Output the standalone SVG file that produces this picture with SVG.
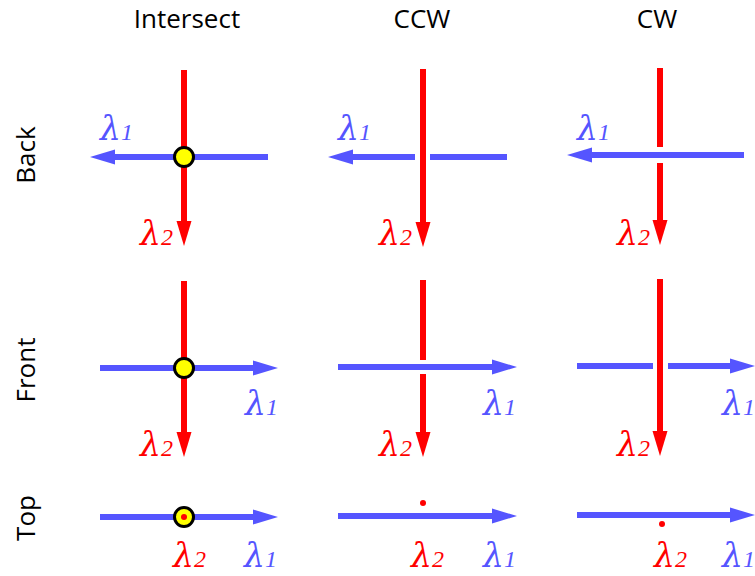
<svg xmlns="http://www.w3.org/2000/svg" width="755" height="576" viewBox="0 0 755 576">
<style>
.hdr{font-family:"Open Sans","Liberation Sans",sans-serif;font-size:26px;fill:#000;text-anchor:middle}
.b{stroke:#5555ff;stroke-width:6;fill:none}
.r{stroke:#ff0000;stroke-width:6;fill:none}
.bh{fill:#5555ff}
.rh{fill:#ff0000}
.lam{font-family:"DejaVu Serif","Liberation Serif",serif;font-size:33px;font-style:italic}
.sub{font-family:"Liberation Serif",serif;font-size:24px;font-style:italic}
.l1{fill:#5555ff}
.l2{fill:#ff0000}
.dot{fill:#ffff00;stroke:#000;stroke-width:3}
</style>
<rect width="755" height="576" fill="#fff"/>
<g id="headers">
<text class="hdr" x="187" y="28">Intersect</text>
<text class="hdr" x="422" y="28">CCW</text>
<text class="hdr" x="657" y="28">CW</text>
<text class="hdr" transform="translate(35,155) rotate(-90)">Back</text>
<text class="hdr" transform="translate(35,370) rotate(-90)">Front</text>
<text class="hdr" transform="translate(35,518) rotate(-90)">Top</text>
</g>
<g id="connectors">
<line class="b" x1="268" y1="157" x2="113" y2="157"/>
<polygon class="bh" points="90,157 115,149.5 115,164.5"/>
<line class="r" x1="184" y1="70" x2="184" y2="223"/>
<polygon class="rh" points="176.5,221 191.5,221 184,246"/>

<line class="b" x1="507" y1="157" x2="430" y2="157"/>
<line class="b" x1="415" y1="157" x2="351" y2="157"/>
<polygon class="bh" points="328,157 353,149.5 353,164.5"/>
<line class="r" x1="423" y1="69" x2="423" y2="224"/>
<polygon class="rh" points="415.5,222 430.5,222 423,247"/>

<line class="b" x1="744" y1="155" x2="590" y2="155"/>
<polygon class="bh" points="567,155 592,147.5 592,162.5"/>
<line class="r" x1="660" y1="68" x2="660" y2="147"/>
<line class="r" x1="660" y1="163" x2="660" y2="222"/>
<polygon class="rh" points="652.5,220 667.5,220 660,245"/>

<line class="b" x1="100" y1="368" x2="255" y2="368"/>
<polygon class="bh" points="278,368 253,360.5 253,375.5"/>
<line class="r" x1="184" y1="281" x2="184" y2="434"/>
<polygon class="rh" points="176.5,432 191.5,432 184,457"/>

<line class="b" x1="338" y1="367" x2="494" y2="367"/>
<polygon class="bh" points="517,367 492,359.5 492,374.5"/>
<line class="r" x1="423" y1="280" x2="423" y2="360"/>
<line class="r" x1="423" y1="374" x2="423" y2="434"/>
<polygon class="rh" points="415.5,432 430.5,432 423,457"/>

<line class="b" x1="577" y1="366" x2="653" y2="366"/>
<line class="b" x1="668" y1="366" x2="732" y2="366"/>
<polygon class="bh" points="755,366 730,358.5 730,373.5"/>
<line class="r" x1="660" y1="279" x2="660" y2="433"/>
<polygon class="rh" points="652.5,431 667.5,431 660,456"/>

<line class="b" x1="100" y1="517" x2="255" y2="517"/>
<polygon class="bh" points="278,517 253,509.5 253,524.5"/>
<line class="b" x1="338" y1="516" x2="494" y2="516"/>
<polygon class="bh" points="517,516 492,508.5 492,523.5"/>
<line class="b" x1="577" y1="515" x2="732" y2="515"/>
<polygon class="bh" points="755,515 730,507.5 730,522.5"/>
</g>
<g id="dots">
<circle class="dot" cx="184" cy="157" r="9.5"/>
<circle class="dot" cx="184" cy="368" r="9.5"/>
<circle class="dot" cx="184" cy="517" r="9.5"/>
<circle class="rh" cx="184" cy="517" r="3"/>
<circle class="rh" cx="423" cy="503" r="3"/>
<circle class="rh" cx="662" cy="524" r="3"/>
</g>
<g id="labels">
<text class="lam l1" x="100" y="140">λ<tspan class="sub">1</tspan></text>
<text class="lam l1" x="338" y="140">λ<tspan class="sub">1</tspan></text>
<text class="lam l1" x="577" y="140">λ<tspan class="sub">1</tspan></text>
<text class="lam l2" x="140" y="245">λ<tspan class="sub">2</tspan></text>
<text class="lam l2" x="379" y="245">λ<tspan class="sub">2</tspan></text>
<text class="lam l2" x="617" y="245">λ<tspan class="sub">2</tspan></text>

<text class="lam l1" x="245" y="415">λ<tspan class="sub">1</tspan></text>
<text class="lam l1" x="483" y="415">λ<tspan class="sub">1</tspan></text>
<text class="lam l1" x="722" y="415">λ<tspan class="sub">1</tspan></text>
<text class="lam l2" x="140" y="456">λ<tspan class="sub">2</tspan></text>
<text class="lam l2" x="379" y="456">λ<tspan class="sub">2</tspan></text>
<text class="lam l2" x="617" y="456">λ<tspan class="sub">2</tspan></text>

<text class="lam l2" x="173" y="567">λ<tspan class="sub">2</tspan></text>
<text class="lam l1" x="244" y="567">λ<tspan class="sub">1</tspan></text>
<text class="lam l2" x="411" y="567">λ<tspan class="sub">2</tspan></text>
<text class="lam l1" x="483" y="567">λ<tspan class="sub">1</tspan></text>
<text class="lam l2" x="654" y="567">λ<tspan class="sub">2</tspan></text>
<text class="lam l1" x="722" y="567">λ<tspan class="sub">1</tspan></text>
</g>
</svg>
